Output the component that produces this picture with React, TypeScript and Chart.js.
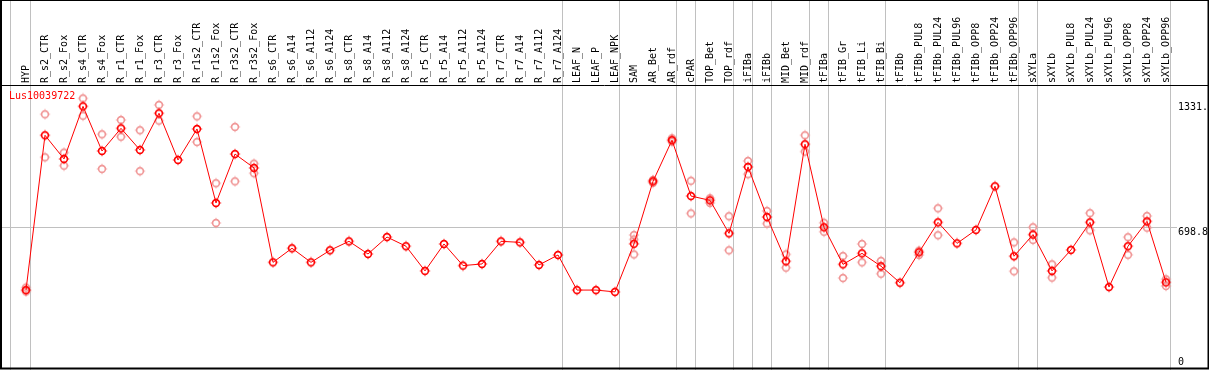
import React, { useEffect, useRef } from "react";
import { Chart, registerables } from "chart.js";

Chart.register(...registerables);

const CATEGORIES = [
  "HYP", "R_s2_CTR", "R_s2_Fox", "R_s4_CTR", "R_s4_Fox", "R_r1_CTR", "R_r1_Fox", "R_r3_CTR", "R_r3_Fox",
  "R_r1s2_CTR", "R_r1s2_Fox", "R_r3s2_CTR", "R_r3s2_Fox", "R_s6_CTR", "R_s6_A14", "R_s6_A112", "R_s6_A124",
  "R_s8_CTR", "R_s8_A14", "R_s8_A112", "R_s8_A124", "R_r5_CTR", "R_r5_A14", "R_r5_A112", "R_r5_A124",
  "R_r7_CTR", "R_r7_A14", "R_r7_A112", "R_r7_A124", "LEAF_N", "LEAF_P", "LEAF_NPK", "SAM", "AR_Bet", "AR_rdf",
  "cPAR", "TOP_Bet", "TOP_rdf", "iFIBa", "iFIBb", "MID_Bet", "MID_rdf", "tFIBa", "tFIB_Gr", "tFIB_Li", "tFIB_Bi",
  "tFIBb", "tFIBb_PUL8", "tFIBb_PUL24", "tFIBb_PUL96", "tFIBb_OPP8", "tFIBb_OPP24", "tFIBb_OPP96", "sXYLa",
  "sXYLb", "sXYLb_PUL8", "sXYLb_PUL24", "sXYLb_PUL96", "sXYLb_OPP8", "sXYLb_OPP24", "sXYLb_OPP96",
];

const MEAN_VALUES = [
  392, 1151, 1035, 1293, 1074, 1185, 1079, 1259, 1030,
  1182, 819, 1059, 991, 528, 597, 528, 587,
  631, 569, 652, 607, 486, 618, 512, 520,
  631, 626, 515, 564, 392, 392, 383, 619, 925, 1127,
  853, 832, 670, 996, 750, 533, 1107, 700, 518, 572, 509,
  428, 577, 724, 621, 687, 901, 558, 664,
  486, 589, 724, 407, 607, 729, 430,
];

const REP_1 = [
  404, 1254, 1066, 1332, 1156, 1226, 1176, 1300, null,
  1244, 916, 1192, 1012, null, null, null, null,
  null, null, null, null, null, null, null, null,
  null, null, null, null, null, null, null, 662, 932, 1136,
  928, 842, 754, 1025, 780, 567, 1151, 722, 559, 618, 535,
  null, 585, 793, null, null, null, 626, 700,
  518, null, 769, null, 651, 755, 445,
];

const REP_2 = [
  385, 1043, 1002, 1247, 986, 1144, 975, 1223, null,
  1118, 721, 925, 965, null, null, null, null,
  null, null, null, null, null, null, null, null,
  null, null, null, null, null, null, null, 567, 918, 1120,
  768, 819, 587, 960, 718, 502, 1071, 678, 451, 528, 472,
  null, 564, 661, null, null, null, 484, 638,
  453, null, 685, null, 565, 698, 412,
];

const REP_3 = CATEGORIES.map((c) => (c === "SAM" ? 640 : null));

const GENE_ID = "Lus10039722";
const Y_TICKS = [0, 698.8, 1331];
const Y_TICK_LABELS = ["0", "698.8", "1331."];
const Y_MAX = 1397.6;
const GROUP_ENDS = [0, 28, 31, 34, 35, 37, 38, 39, 41, 42, 45, 52, 53, 60];

const FONT = "'DejaVu Sans Mono', monospace";

function makeMarker(color: string) {
  const c = document.createElement("canvas");
  c.width = 12;
  c.height = 12;
  const g = c.getContext("2d")!;
  g.strokeStyle = color;
  g.lineWidth = 1.6;
  g.beginPath();
  g.arc(6, 6, 3.4, 0, Math.PI * 2);
  g.stroke();
  g.fillStyle = color;
  g.fillRect(5.5, 0.8, 1, 1);
  g.fillRect(5.5, 10.2, 1, 1);
  g.fillRect(0.8, 5.5, 1, 1);
  g.fillRect(10.2, 5.5, 1, 1);
  return c;
}

function repPoints(arr: (number | null)[]) {
  const out: { x: number; y: number }[] = [];
  arr.forEach((v, i) => {
    if (v !== null) out.push({ x: i, y: v });
  });
  return out;
}

export default function App() {
  const ref = useRef<HTMLCanvasElement | null>(null);

  useEffect(() => {
    document.body.style.margin = "0";
    const canvas = ref.current!;
    const mainMarker = makeMarker("#ff0000");
    const repMarker = makeMarker("rgb(240,150,150)");

    const decor = {
      id: "decor",
      beforeDraw(chart: any) {
        const { ctx, width, height } = chart;
        const xs = chart.scales.x;
        const ys = chart.scales.y;
        ctx.save();
        ctx.fillStyle = "#ffffff";
        ctx.fillRect(0, 0, width, height);
        ctx.strokeStyle = "#c0c0c0";
        ctx.lineWidth = 1;
        const step = xs.getPixelForValue(1) - xs.getPixelForValue(0);
        const lines = [xs.getPixelForValue(0) - step * 0.842];
        GROUP_ENDS.forEach((e) => lines.push(xs.getPixelForValue(e) + step * 0.2368));
        lines.forEach((px) => {
          const x = Math.floor(px) + 0.5;
          ctx.beginPath();
          ctx.moveTo(x, 0);
          ctx.lineTo(x, height);
          ctx.stroke();
        });
        const gy = Math.floor(ys.getPixelForValue(Y_TICKS[1])) + 0.5;
        ctx.beginPath();
        ctx.moveTo(1, gy);
        ctx.lineTo(1177, gy);
        ctx.stroke();
        ctx.restore();
      },
      afterDraw(chart: any) {
        const { ctx, width, height } = chart;
        const ys = chart.scales.y;
        ctx.save();
        ctx.fillStyle = "#ff0000";
        ctx.font = `10px ${FONT}`;
        ctx.textBaseline = "top";
        ctx.textAlign = "left";
        ctx.fillText(GENE_ID, 9, 91.5);
        ctx.fillStyle = "#000000";
        Y_TICKS.forEach((t, i) => {
          const py = ys.getPixelForValue(t);
          const y = Math.min(Math.max(py - 0.5, 102), 357);
          ctx.fillText(Y_TICK_LABELS[i], 1178, y);
        });
        ctx.strokeStyle = "#000000";
        ctx.lineWidth = 1;
        ctx.beginPath();
        ctx.moveTo(0, 85.5);
        ctx.lineTo(width, 85.5);
        ctx.stroke();
        ctx.lineWidth = 2;
        ctx.strokeRect(1, 0, width - 1.5, height - 1.5);
        ctx.restore();
      },
    };

    const chart = new Chart(canvas, {
      type: "line",
      data: {
        datasets: [
          {
            label: GENE_ID,
            data: MEAN_VALUES.map((v, i) => ({ x: i, y: v })),
            borderColor: "#ff0000",
            borderWidth: 1,
            pointStyle: mainMarker as any,
            pointRadius: 4,
            tension: 0,
            order: 0,
          },
          {
            label: "rep1",
            data: repPoints(REP_1),
            showLine: false,
            pointStyle: repMarker as any,
            pointRadius: 4,
            order: 1,
          },
          {
            label: "rep2",
            data: repPoints(REP_2),
            showLine: false,
            pointStyle: repMarker as any,
            pointRadius: 4,
            order: 1,
          },
          {
            label: "rep3",
            data: repPoints(REP_3),
            showLine: false,
            pointStyle: repMarker as any,
            pointRadius: 4,
            order: 1,
          },
        ],
      },
      options: {
        responsive: false,
        animation: false,
        devicePixelRatio: 1,
        layout: { padding: 0, autoPadding: false },
        plugins: { legend: { display: false }, tooltip: { enabled: false } },
        scales: {
          x: {
            type: "linear",
            position: "top",
            min: -26 / 19,
            max: (1209 - 26) / 19,
            afterBuildTicks: (s: any) => {
              s.ticks = CATEGORIES.map((_, i) => ({ value: i }));
            },
            afterFit: (s: any) => {
              s.height = 85;
              s.paddingLeft = 0;
              s.paddingRight = 0;
            },
            grid: { display: false, drawTicks: false },
            border: { display: false },
            ticks: {
              autoSkip: false,
              minRotation: 90,
              maxRotation: 90,
              padding: 2,
              labelOffset: 12,
              color: "#000000",
              font: { family: FONT, size: 10 },
              callback: (v: any) => CATEGORIES[v] ?? "",
            },
          },
          y: {
            type: "linear",
            display: false,
            min: 0,
            max: Y_MAX,
          },
        },
      },
      plugins: [decor],
    });
    return () => chart.destroy();
  }, []);

  return (
    <div style={{ width: 1209, height: 370 }}>
      <canvas ref={ref} width={1209} height={370} style={{ display: "block" }} />
    </div>
  );
}
